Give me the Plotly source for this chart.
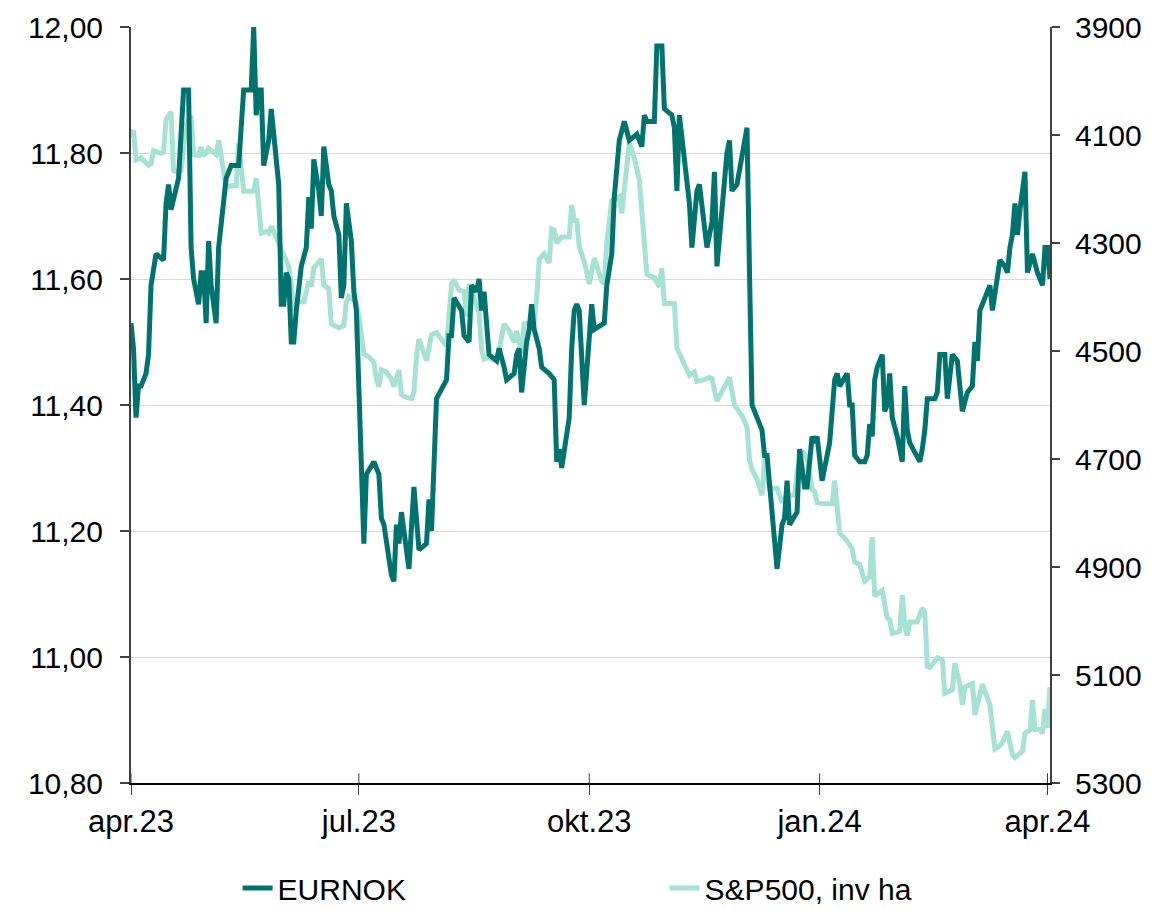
import plotly.graph_objects as go

# ---------------- data ----------------
eur_dates = [
    "2023-04-01", "2023-04-02", "2023-04-03", "2023-04-04", "2023-04-05", "2023-04-07", "2023-04-08", "2023-04-09",
    "2023-04-11", "2023-04-14", "2023-04-15", "2023-04-16", "2023-04-17", "2023-04-18", "2023-04-20", "2023-04-22",
    "2023-04-24", "2023-04-25", "2023-04-26", "2023-04-28", "2023-04-29", "2023-04-30", "2023-05-01", "2023-05-02",
    "2023-05-03", "2023-05-05", "2023-05-06", "2023-05-09", "2023-05-11", "2023-05-14", "2023-05-16", "2023-05-18",
    "2023-05-19", "2023-05-20", "2023-05-21", "2023-05-22", "2023-05-23", "2023-05-24", "2023-05-25", "2023-05-26",
    "2023-05-27", "2023-05-29", "2023-05-30", "2023-05-31", "2023-06-01", "2023-06-02", "2023-06-03", "2023-06-04",
    "2023-06-05", "2023-06-06", "2023-06-08", "2023-06-10", "2023-06-11", "2023-06-12", "2023-06-13", "2023-06-15",
    "2023-06-16", "2023-06-17", "2023-06-19", "2023-06-20", "2023-06-21", "2023-06-23", "2023-06-24", "2023-06-25",
    "2023-06-26", "2023-06-28", "2023-06-29", "2023-06-30", "2023-07-03", "2023-07-04", "2023-07-07", "2023-07-09",
    "2023-07-10", "2023-07-11", "2023-07-14", "2023-07-15", "2023-07-16", "2023-07-17", "2023-07-18", "2023-07-21",
    "2023-07-23", "2023-07-25", "2023-07-28", "2023-07-29", "2023-07-30", "2023-08-01", "2023-08-05", "2023-08-06",
    "2023-08-07", "2023-08-08", "2023-08-11", "2023-08-12", "2023-08-14", "2023-08-15", "2023-08-17", "2023-08-18",
    "2023-08-19", "2023-08-20", "2023-08-21", "2023-08-22", "2023-08-25", "2023-08-26", "2023-08-28", "2023-08-29",
    "2023-09-01", "2023-09-02", "2023-09-03", "2023-09-04", "2023-09-06", "2023-09-07", "2023-09-08", "2023-09-09",
    "2023-09-11", "2023-09-12", "2023-09-15", "2023-09-17", "2023-09-18", "2023-09-19", "2023-09-20", "2023-09-23",
    "2023-09-24", "2023-09-25", "2023-09-26", "2023-09-27", "2023-09-29", "2023-10-02", "2023-10-03", "2023-10-07",
    "2023-10-08", "2023-10-10", "2023-10-11", "2023-10-13", "2023-10-15", "2023-10-17", "2023-10-20", "2023-10-22",
    "2023-10-23", "2023-10-24", "2023-10-27", "2023-10-28", "2023-10-30", "2023-10-31", "2023-11-03", "2023-11-04",
    "2023-11-05", "2023-11-06", "2023-11-08", "2023-11-10", "2023-11-11", "2023-11-13", "2023-11-14", "2023-11-17",
    "2023-11-19", "2023-11-20", "2023-11-21", "2023-11-23", "2023-11-25", "2023-11-26", "2023-11-27", "2023-11-29",
    "2023-12-01", "2023-12-03", "2023-12-04", "2023-12-05", "2023-12-09", "2023-12-10", "2023-12-11", "2023-12-12",
    "2023-12-15", "2023-12-17", "2023-12-18", "2023-12-19", "2023-12-20", "2023-12-23", "2023-12-24", "2023-12-26",
    "2023-12-27", "2023-12-29", "2023-12-30", "2023-12-31", "2024-01-02", "2024-01-05", "2024-01-07", "2024-01-08",
    "2024-01-09", "2024-01-12", "2024-01-13", "2024-01-14", "2024-01-15", "2024-01-17", "2024-01-19", "2024-01-20",
    "2024-01-21", "2024-01-22", "2024-01-23", "2024-01-24", "2024-01-26", "2024-01-27", "2024-01-28", "2024-01-29",
    "2024-01-30", "2024-02-01", "2024-02-03", "2024-02-04", "2024-02-05", "2024-02-06", "2024-02-10", "2024-02-11",
    "2024-02-12", "2024-02-13", "2024-02-16", "2024-02-17", "2024-02-18", "2024-02-20", "2024-02-21", "2024-02-23",
    "2024-02-25", "2024-02-27", "2024-02-28", "2024-02-29", "2024-03-02", "2024-03-03", "2024-03-04", "2024-03-05",
    "2024-03-08", "2024-03-09", "2024-03-10", "2024-03-13", "2024-03-15", "2024-03-16", "2024-03-17", "2024-03-18",
    "2024-03-19", "2024-03-20", "2024-03-21", "2024-03-23", "2024-03-24", "2024-03-26", "2024-03-28", "2024-03-30",
    "2024-03-31", "2024-04-01", "2024-04-02",
]
eur_values = [
    11.53, 11.49, 11.38, 11.43, 11.43, 11.45, 11.48, 11.59,
    11.64, 11.63, 11.72, 11.75, 11.71, 11.73, 11.76, 11.90,
    11.90, 11.65, 11.60, 11.56, 11.61, 11.61, 11.53, 11.66,
    11.59, 11.53, 11.65, 11.76, 11.78, 11.78, 11.90, 11.90,
    11.90, 12.00, 11.86, 11.90, 11.90, 11.78, 11.80, 11.82,
    11.87, 11.79, 11.75, 11.56, 11.56, 11.61, 11.60, 11.50,
    11.50, 11.55, 11.62, 11.65, 11.73, 11.68, 11.79, 11.74,
    11.70, 11.81, 11.75, 11.74, 11.70, 11.67, 11.57, 11.59,
    11.72, 11.66, 11.58, 11.55, 11.18, 11.29, 11.31, 11.29,
    11.22, 11.21, 11.13, 11.12, 11.21, 11.18, 11.23, 11.14,
    11.27, 11.17, 11.18, 11.25, 11.20, 11.41, 11.44, 11.51,
    11.51, 11.57, 11.55, 11.51, 11.50, 11.59, 11.58, 11.60,
    11.55, 11.58, 11.53, 11.48, 11.47, 11.49, 11.46, 11.44,
    11.45, 11.48, 11.49, 11.42, 11.50, 11.52, 11.56, 11.52,
    11.49, 11.46, 11.45, 11.44, 11.31, 11.33, 11.30, 11.38,
    11.49, 11.55, 11.56, 11.55, 11.40, 11.56, 11.52, 11.53,
    11.59, 11.64, 11.73, 11.82, 11.85, 11.82, 11.83, 11.81,
    11.86, 11.85, 11.85, 11.97, 11.97, 11.87, 11.86, 11.84,
    11.74, 11.86, 11.79, 11.72, 11.65, 11.74, 11.75, 11.65,
    11.69, 11.77, 11.62, 11.72, 11.80, 11.82, 11.74, 11.75,
    11.79, 11.84, 11.61, 11.40, 11.36, 11.32, 11.32, 11.28,
    11.14, 11.21, 11.22, 11.28, 11.21, 11.23, 11.33, 11.27,
    11.27, 11.35, 11.34, 11.35, 11.28, 11.34, 11.44, 11.45,
    11.43, 11.45, 11.40, 11.40, 11.32, 11.31, 11.31, 11.32,
    11.37, 11.35, 11.44, 11.46, 11.48, 11.39, 11.40, 11.45,
    11.38, 11.35, 11.31, 11.43, 11.36, 11.34, 11.31, 11.33,
    11.36, 11.41, 11.41, 11.42, 11.48, 11.48, 11.41, 11.48,
    11.47, 11.39, 11.41, 11.42, 11.43, 11.50, 11.47, 11.55,
    11.58, 11.59, 11.55, 11.63, 11.62, 11.61, 11.65, 11.67,
    11.72, 11.67, 11.71, 11.77, 11.61, 11.64, 11.61, 11.59,
    11.65, 11.65, 11.60,
]

spx_dates = [
    "2023-04-01", "2023-04-02", "2023-04-03", "2023-04-05", "2023-04-08", "2023-04-09", "2023-04-10", "2023-04-13",
    "2023-04-14", "2023-04-15", "2023-04-17", "2023-04-18", "2023-04-20", "2023-04-21", "2023-04-23", "2023-04-25",
    "2023-04-26", "2023-04-28", "2023-04-29", "2023-04-30", "2023-05-02", "2023-05-04", "2023-05-05", "2023-05-06",
    "2023-05-07", "2023-05-09", "2023-05-11", "2023-05-13", "2023-05-14", "2023-05-16", "2023-05-20", "2023-05-21",
    "2023-05-23", "2023-05-25", "2023-05-26", "2023-05-27", "2023-05-29", "2023-06-01", "2023-06-03", "2023-06-04",
    "2023-06-05", "2023-06-06", "2023-06-09", "2023-06-11", "2023-06-12", "2023-06-13", "2023-06-16", "2023-06-17",
    "2023-06-19", "2023-06-20", "2023-06-23", "2023-06-25", "2023-06-26", "2023-06-27", "2023-06-30", "2023-07-01",
    "2023-07-03", "2023-07-05", "2023-07-07", "2023-07-08", "2023-07-09", "2023-07-10", "2023-07-12", "2023-07-14",
    "2023-07-15", "2023-07-17", "2023-07-18", "2023-07-20", "2023-07-22", "2023-07-23", "2023-07-24", "2023-07-25",
    "2023-07-27", "2023-07-28", "2023-07-30", "2023-08-01", "2023-08-03", "2023-08-05", "2023-08-06", "2023-08-07",
    "2023-08-08", "2023-08-10", "2023-08-12", "2023-08-13", "2023-08-14", "2023-08-16", "2023-08-18", "2023-08-19",
    "2023-08-20", "2023-08-22", "2023-08-23", "2023-08-25", "2023-08-26", "2023-08-28", "2023-08-30", "2023-09-01",
    "2023-09-02", "2023-09-04", "2023-09-05", "2023-09-07", "2023-09-09", "2023-09-10", "2023-09-11", "2023-09-13",
    "2023-09-15", "2023-09-16", "2023-09-17", "2023-09-18", "2023-09-20", "2023-09-23", "2023-09-24", "2023-09-25",
    "2023-09-26", "2023-09-27", "2023-09-29", "2023-10-01", "2023-10-03", "2023-10-06", "2023-10-07", "2023-10-08",
    "2023-10-10", "2023-10-13", "2023-10-14", "2023-10-17", "2023-10-19", "2023-10-21", "2023-10-22", "2023-10-23",
    "2023-10-24", "2023-10-27", "2023-10-29", "2023-10-30", "2023-10-31", "2023-11-04", "2023-11-05", "2023-11-07",
    "2023-11-10", "2023-11-12", "2023-11-13", "2023-11-16", "2023-11-18", "2023-11-19", "2023-11-21", "2023-11-24",
    "2023-11-26", "2023-11-28", "2023-12-01", "2023-12-03", "2023-12-04", "2023-12-05", "2023-12-07", "2023-12-09",
    "2023-12-10", "2023-12-12", "2023-12-15", "2023-12-17", "2023-12-19", "2023-12-22", "2023-12-23", "2023-12-25",
    "2023-12-27", "2023-12-29", "2023-12-30", "2023-12-31", "2024-01-02", "2024-01-06", "2024-01-07", "2024-01-09",
    "2024-01-12", "2024-01-14", "2024-01-15", "2024-01-17", "2024-01-19", "2024-01-21", "2024-01-22", "2024-01-23",
    "2024-01-26", "2024-01-28", "2024-01-29", "2024-01-30", "2024-02-02", "2024-02-03", "2024-02-04", "2024-02-05",
    "2024-02-06", "2024-02-09", "2024-02-11", "2024-02-12", "2024-02-13", "2024-02-14", "2024-02-16", "2024-02-17",
    "2024-02-19", "2024-02-20", "2024-02-23", "2024-02-24", "2024-02-26", "2024-02-27", "2024-02-28", "2024-03-02",
    "2024-03-03", "2024-03-04", "2024-03-06", "2024-03-07", "2024-03-09", "2024-03-11", "2024-03-13", "2024-03-14",
    "2024-03-16", "2024-03-18", "2024-03-19", "2024-03-22", "2024-03-23", "2024-03-25", "2024-03-26", "2024-03-27",
    "2024-03-29", "2024-03-30", "2024-03-31", "2024-04-01", "2024-04-02",
]
spx_values = [
    4105, 4091, 4146, 4142, 4156, 4153, 4129, 4134,
    4132, 4071, 4057, 4166, 4170, 4166, 4081, 4064,
    4136, 4138, 4122, 4139, 4125, 4132, 4136, 4110,
    4136, 4197, 4194, 4194, 4115, 4204, 4204, 4180,
    4282, 4279, 4282, 4269, 4289, 4320, 4344, 4375,
    4426, 4409, 4409, 4371, 4381, 4346, 4330, 4378,
    4385, 4450, 4457, 4453, 4409, 4399, 4410, 4436,
    4506, 4511, 4521, 4552, 4566, 4535, 4539, 4552,
    4566, 4535, 4581, 4586, 4588, 4576, 4510, 4478,
    4501, 4518, 4470, 4466, 4478, 4491, 4436, 4376,
    4368, 4387, 4390, 4436, 4376, 4403, 4429, 4498,
    4515, 4511, 4515, 4517, 4498, 4450, 4462, 4484,
    4463, 4504, 4450, 4448, 4446, 4402, 4330, 4320,
    4337, 4274, 4276, 4300, 4289, 4289, 4230, 4259,
    4259, 4306, 4334, 4376, 4328, 4371, 4375, 4300,
    4221, 4214, 4245, 4115, 4142, 4183, 4252, 4320,
    4358, 4364, 4381, 4347, 4412, 4412, 4494, 4515,
    4545, 4539, 4556, 4553, 4549, 4551, 4593, 4566,
    4549, 4600, 4620, 4641, 4702, 4719, 4737, 4767,
    4699, 4754, 4754, 4781, 4767, 4767, 4723, 4685,
    4699, 4757, 4760, 4781, 4783, 4783, 4740, 4837,
    4852, 4866, 4891, 4895, 4926, 4918, 4845, 4954,
    4943, 4994, 4998, 5023, 5019, 4952, 5006, 5027,
    5002, 5002, 4976, 4984, 5084, 5086, 5072, 5068,
    5072, 5134, 5127, 5078, 5117, 5155, 5122, 5116,
    5174, 5155, 5117, 5130, 5155, 5237, 5231, 5225,
    5204, 5248, 5253, 5241, 5208, 5202, 5146, 5201,
    5201, 5208, 5163, 5198, 5122,
]

x_tick_dates = ["2023-04-01", "2023-07-01", "2023-10-01", "2024-01-01", "2024-04-01"]
x_tick_labels = ["apr.23", "jul.23", "okt.23", "jan.24", "apr.24"]
eur_ticks = [10.80, 11.00, 11.20, 11.40, 11.60, 11.80, 12.00]
eur_tick_labels = ["10,80", "11,00", "11,20", "11,40", "11,60", "11,80", "12,00"]
spx_ticks = [3900, 4100, 4300, 4500, 4700, 4900, 5100, 5300]
spx_tick_labels = ["3900", "4100", "4300", "4500", "4700", "4900", "5100", "5300"]

# ---------------- styles ----------------
DARK = "#00736F"
LIGHT = "#A6E2D3"
AXIS_GREY = "#404040"
FONT = "Liberation Sans, Arial, sans-serif"

fig = go.Figure()
fig.add_trace(go.Scatter(
    x=spx_dates, y=spx_values, name="S&P500, inv ha", mode="lines",
    line=dict(color=LIGHT, width=5), yaxis="y", legendrank=2,
))
fig.add_trace(go.Scatter(
    x=eur_dates, y=eur_values, name="EURNOK", mode="lines",
    line=dict(color=DARK, width=5), yaxis="y2", legendrank=1,
))

# crossing x ticks: inner half drawn as short lines at each tick date
for d in x_tick_dates:
    fig.add_shape(type="line", xref="x", yref="paper", x0=d, x1=d, y0=0, y1=0.013,
                  line=dict(color="#404040", width=1))

fig.update_layout(
    width=1173, height=909,
    margin=dict(l=131, r=123, t=27, b=126, autoexpand=False),
    paper_bgcolor="white", plot_bgcolor="white",
    font=dict(family=FONT, size=30, color="black"),
    showlegend=True,
    legend=dict(orientation="h", x=0.116, xanchor="left", y=-0.139, yanchor="middle",
                font=dict(size=30, family=FONT, color="black"),
                entrywidth=382, entrywidthmode="pixels", bgcolor="rgba(0,0,0,0)"),
    xaxis=dict(
        type="date", range=["2023-04-01", "2024-04-02"],
        tickvals=x_tick_dates, ticktext=x_tick_labels,
        ticks="outside", ticklen=10, tickwidth=1, tickcolor="#404040",
        showline=True, linecolor="black", linewidth=1.5,
        showgrid=False, zeroline=False, ticklabelstandoff=0,
        tickfont=dict(size=31),
    ),
    yaxis=dict(
        side="right", range=[5300, 3900],
        tickvals=spx_ticks, ticktext=spx_tick_labels,
        ticks="outside", ticklen=8, tickwidth=2, tickcolor=AXIS_GREY,
        showline=True, linecolor=AXIS_GREY, linewidth=2,
        showgrid=False, zeroline=False, ticklabelstandoff=9,
        tickfont=dict(size=30),
    ),
    yaxis2=dict(
        side="left", overlaying="y", range=[10.80, 12.00],
        tickvals=eur_ticks, ticktext=eur_tick_labels,
        ticks="outside", ticklen=9, tickwidth=2, tickcolor=AXIS_GREY,
        showline=True, linecolor=AXIS_GREY, linewidth=2,
        showgrid=True, gridcolor="#D9D9D9", gridwidth=1,
        zeroline=False, ticklabelstandoff=11,
        tickfont=dict(size=30),
    ),
)

fig.write_html("out.html", config={"displayModeBar": False},
               post_script="document.body.style.margin='0px';")
